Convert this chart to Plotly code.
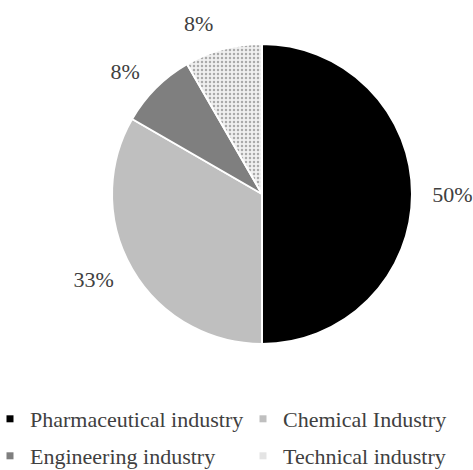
import plotly.graph_objects as go

# Industry breakdown
industries = ["Pharmaceutical industry", "Chemical Industry",
              "Engineering industry", "Technical industry"]
counts = [6, 4, 1, 1]
slice_colors = ["#000000", "#bfbfbf", "#7f7f7f", "#f0f0f0"]
legend_colors = ["#000000", "#bfbfbf", "#7f7f7f", "#e4e4e4"]
slice_patterns = ["", "", "", "."]

SERIF = "Liberation Serif, Times New Roman, serif"
TEXT_GRAY = "#404040"
W, H = 473, 470


def dom(cx, cy, r):
    """Pie domain (paper fractions) for a circle given in pixels."""
    return dict(x=[(cx - r) / W, (cx + r) / W],
                y=[1 - (cy + r) / H, 1 - (cy - r) / H])


fig = go.Figure()

# Transparent ring carrying the percentage labels a little away from the pie
fig.add_trace(go.Pie(
    labels=industries,
    values=counts,
    sort=False,
    direction="clockwise",
    rotation=0,
    marker=dict(colors=["rgba(0,0,0,0)"] * len(counts), line=dict(width=0)),
    texttemplate="%{percent:.0%}",
    textposition="outside",
    textfont=dict(family=SERIF, size=22, color=TEXT_GRAY),
    hoverinfo="skip",
    showlegend=False,
    domain=dom(262, 194, 164),
))

# The pie itself
fig.add_trace(go.Pie(
    labels=industries,
    values=counts,
    sort=False,
    direction="clockwise",
    rotation=0,
    marker=dict(
        colors=slice_colors,
        line=dict(color="#ffffff", width=2),
        pattern=dict(
            shape=slice_patterns,
            fgcolor="#aaaaaa",
            bgcolor="#f0f0f0",
            size=4,
            solidity=0.3,
        ),
    ),
    textinfo="none",
    hoverinfo="label+percent",
    showlegend=False,
    domain=dom(262, 194, 150),
))

# Legend: two columns, two rows
legend_ids = ["legend", "legend2", "legend3", "legend4"]
legend_x = [0, 253 / W, 0, 253 / W]
legend_y = [1 - 419 / H, 1 - 419 / H, 1 - 456 / H, 1 - 456 / H]

for name, color, lid in zip(industries, legend_colors, legend_ids):
    fig.add_trace(go.Scatter(
        x=[None], y=[None],
        mode="markers",
        name=name,
        marker=dict(symbol="square", size=7, color=color),
        legend=lid,
        hoverinfo="skip",
    ))

legend_style = dict(
    orientation="v",
    xanchor="left",
    yanchor="middle",
    indentation=-10,
    bgcolor="rgba(0,0,0,0)",
    font=dict(family=SERIF, size=22, color=TEXT_GRAY),
    itemclick=False,
    itemdoubleclick=False,
)

fig.update_layout(
    width=W,
    height=H,
    margin=dict(l=0, r=0, t=0, b=0, autoexpand=False),
    paper_bgcolor="#ffffff",
    plot_bgcolor="rgba(0,0,0,0)",
    xaxis=dict(visible=False),
    yaxis=dict(visible=False),
    showlegend=True,
    **{lid: dict(legend_style, x=lx, y=ly)
       for lid, lx, ly in zip(legend_ids, legend_x, legend_y)},
)

fig.write_html("out.html")
